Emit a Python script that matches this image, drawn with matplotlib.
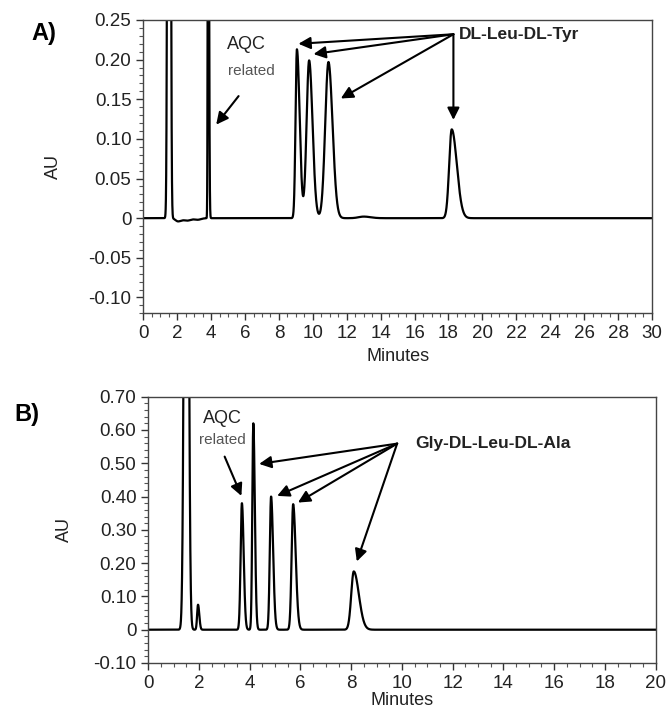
import numpy as np
import matplotlib
matplotlib.use("Agg")
import matplotlib.pyplot as plt
from matplotlib.ticker import MultipleLocator, FuncFormatter

plt.rcParams['font.family'] = ['Liberation Sans', 'DejaVu Sans']

# Panel A: DL-Leu-DL-Tyr, peaks (retention time, height, left/right width)
a_rt = [1.52, 2.05, 2.6, 3.2, 3.83, 9.06, 9.78, 10.92, 13.0, 18.19]
a_height = [3.0, -0.004, -0.003, -0.002, 0.8, 0.213, 0.199, 0.197, 0.002, 0.112]
a_sig_left = [0.06, 0.15, 0.2, 0.2, 0.025, 0.08, 0.15, 0.19, 0.3, 0.15]
a_sig_right = [0.06, 0.2, 0.2, 0.2, 0.04, 0.16, 0.2, 0.24, 0.4, 0.3]

# Panel B: Gly-DL-Leu-DL-Ala
b_rt = [1.5, 1.96, 3.69, 4.14, 4.84, 5.71, 8.1]
b_height = [3.0, 0.075, 0.38, 0.62, 0.40, 0.377, 0.175]
b_sig_left = [0.07, 0.035, 0.05, 0.04, 0.05, 0.06, 0.1]
b_sig_right = [0.07, 0.05, 0.07, 0.06, 0.08, 0.1, 0.2]

# arrow origins and targets
a_origin = (18.29, 0.232)
a_targets = [(9.15, 0.220), (10.04, 0.207), (11.65, 0.151), (18.29, 0.124)]
b_origin = (9.81, 0.559)
b_targets = [(4.37, 0.498), (5.08, 0.402), (5.9, 0.382), (8.22, 0.205)]


def chromatogram(t, rt, height, sl, sr):
    y = np.zeros_like(t)
    for r, h, s1, s2 in zip(rt, height, sl, sr):
        s = np.where(t < r, s1, s2)
        y += h * np.exp(-0.5 * ((t - r) / s) ** 2)
    return y


def fmt(v, pos):
    if abs(v) < 1e-9:
        return "0"
    return f"{v:.2f}"


def arrow(ax, start, end):
    ax.annotate('', xy=end, xytext=start,
                arrowprops=dict(arrowstyle='-|>', color='k', lw=1.5, mutation_scale=18,
                                shrinkA=0, shrinkB=0))


def style_axes(ax, xmax, ymin, ymax, ymajor, yminor, ylab_x, xpad):
    ax.set_xlim(0, xmax)
    ax.set_ylim(ymin, ymax)
    ax.xaxis.set_major_locator(MultipleLocator(2))
    ax.xaxis.set_minor_locator(MultipleLocator(0.5))
    ax.yaxis.set_major_locator(MultipleLocator(ymajor))
    ax.yaxis.set_minor_locator(MultipleLocator(yminor))
    ax.yaxis.set_major_formatter(FuncFormatter(fmt))
    ax.tick_params(which='major', length=5, width=1, colors='#333', labelsize=13.5, labelcolor='#222')
    ax.tick_params(which='minor', length=3, width=0.8, colors='#555')
    for sp in ax.spines.values():
        sp.set_color('#444')
        sp.set_linewidth(1)
    ax.set_xlabel("Minutes", fontsize=13, color='#222', labelpad=xpad)
    ax.set_ylabel("AU", fontsize=13, color='#222')
    ax.yaxis.set_label_coords(ylab_x, 0.5)


fig = plt.figure(figsize=(6.68, 7.09), dpi=100)

# ---- Panel A
axA = fig.add_axes([0.2145, 0.5581, 0.7615, 0.4137])
tA = np.linspace(0, 30, 9001)
axA.plot(tA, chromatogram(tA, a_rt, a_height, a_sig_left, a_sig_right), color='k', lw=1.6)
style_axes(axA, 30, -0.12, 0.25, 0.05, 0.01, -0.16, 4)
axA.set_yticks([-0.10, -0.05, 0, 0.05, 0.10, 0.15, 0.20, 0.25])

for tgt in a_targets:
    arrow(axA, a_origin, tgt)
axA.text(18.6, 0.232, "DL-Leu-DL-Tyr", fontsize=12.5, fontweight='bold', va='center', ha='left', color='#222')
axA.text(6.1, 0.219, "AQC", fontsize=13, ha='center', va='center', color='#222')
axA.text(6.35, 0.186, "related", fontsize=11, ha='center', va='center', color='#555')
arrow(axA, (5.62, 0.154), (4.3, 0.118))

# ---- Panel B
axB = fig.add_axes([0.222, 0.0649, 0.7595, 0.3756])
tB = np.linspace(0, 20, 8001)
axB.plot(tB, chromatogram(tB, b_rt, b_height, b_sig_left, b_sig_right), color='k', lw=1.6)
style_axes(axB, 20, -0.10, 0.70, 0.10, 0.02, -0.1475, 0)

for tgt in b_targets:
    arrow(axB, b_origin, tgt)
axB.text(10.52, 0.559, "Gly-DL-Leu-DL-Ala", fontsize=12.5, fontweight='bold', va='center', ha='left', color='#222')
axB.text(2.92, 0.634, "AQC", fontsize=13, ha='center', va='center', color='#222')
axB.text(2.92, 0.571, "related", fontsize=11, ha='center', va='center', color='#555')
arrow(axB, (3.01, 0.52), (3.67, 0.402))

fig.text(0.066, 0.953, "A)", fontsize=17, fontweight='bold', ha='center', va='center')
fig.text(0.040, 0.416, "B)", fontsize=17, fontweight='bold', ha='center', va='center')

fig.savefig("out.png", dpi=100)
